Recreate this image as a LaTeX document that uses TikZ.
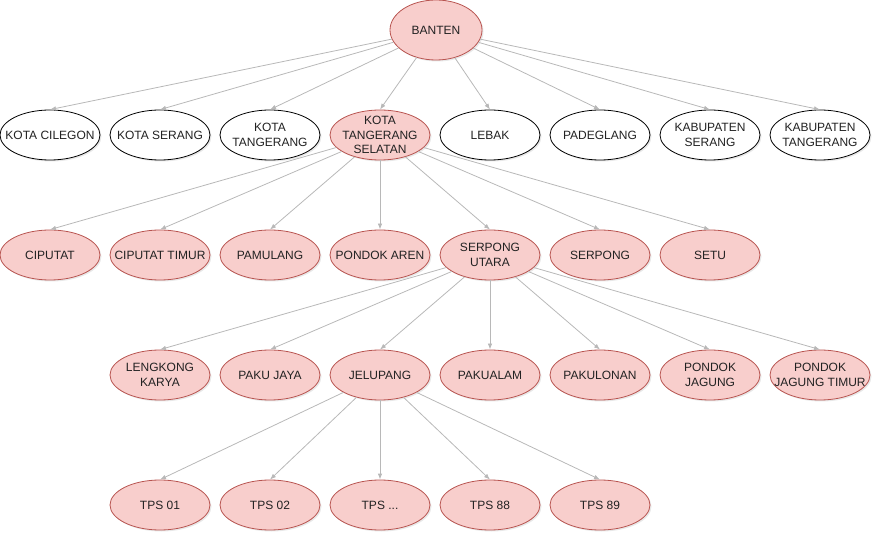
\documentclass[tikz,border=0pt]{standalone}
\usepackage{fontspec}
\setmainfont{Liberation Sans}
\usepackage{tikz}
\usetikzlibrary{shapes.geometric}
\usetikzlibrary{arrows.meta}
\usetikzlibrary{shadows}

\definecolor{pinkfill}{HTML}{F8CECC}
\definecolor{pinkline}{HTML}{B85450}
\definecolor{edgegray}{HTML}{B8B8B8}
\definecolor{txtgray}{HTML}{222222}

\tikzset{
    lbl/.style={align=center, inner sep=0pt, text=txtgray,
        font=\fontsize{12}{14.4}\selectfont},
    ell/.style={ellipse, draw=black, fill=white, line width=0.8pt,
        minimum width=100pt, minimum height=50pt, inner sep=0pt,
        drop shadow={opacity=0.18, shadow xshift=1.5pt, shadow yshift=-1.5pt},
        label={[lbl]center:#1}},
    pinkell/.style={ell=#1, draw=pinkline, fill=pinkfill},
    edge/.style={draw=edgegray, line width=0.8pt,
        -{Latex[length=6pt,width=4.5pt]}}
}

\begin{document}
\begin{tikzpicture}[x=1pt, y=-1pt]
        \useasboundingbox (0, 0) rectangle (873, 534);
        % province
        \node [pinkell=BANTEN, minimum width=92pt, minimum height=60pt] (banten) at (436, 30) {};
        % kota / kabupaten
        \node [ell={KOTA CILEGON}] (cilegon) at (50, 135) {};
        \node [ell={KOTA SERANG}] (serang) at (160, 135) {};
        \node [ell={KOTA\\TANGERANG}] (tangerang) at (270, 135) {};
        \node [pinkell={KOTA\\TANGERANG\\SELATAN}] (tangsel) at (380, 135) {};
        \node [ell=LEBAK] (lebak) at (490, 135) {};
        \node [ell=PADEGLANG] (pandeglang) at (600, 135) {};
        \node [ell={KABUPATEN\\SERANG}] (kabserang) at (710, 135) {};
        \node [ell={KABUPATEN\\TANGERANG}] (kabtangerang) at (820, 135) {};
        % kecamatan
        \node [pinkell=CIPUTAT] (ciputat) at (50, 255) {};
        \node [pinkell={CIPUTAT TIMUR}] (ciputattimur) at (160, 255) {};
        \node [pinkell=PAMULANG] (pamulang) at (270, 255) {};
        \node [pinkell={PONDOK AREN}] (pondokaren) at (380, 255) {};
        \node [pinkell={SERPONG\\UTARA}] (serput) at (490, 255) {};
        \node [pinkell=SERPONG] (serpong) at (600, 255) {};
        \node [pinkell=SETU] (setu) at (710, 255) {};
        % kelurahan
        \node [pinkell={LENGKONG\\KARYA}] (lengkong) at (160, 375) {};
        \node [pinkell={PAKU JAYA}] (pakujaya) at (270, 375) {};
        \node [pinkell=JELUPANG] (jelupang) at (380, 375) {};
        \node [pinkell=PAKUALAM] (pakualam) at (490, 375) {};
        \node [pinkell=PAKULONAN] (pakulonan) at (600, 375) {};
        \node [pinkell={PONDOK\\JAGUNG}] (pjagung) at (710, 375) {};
        \node [pinkell={PONDOK\\JAGUNG TIMUR}] (pjtimur) at (820, 375) {};
        % tps
        \node [pinkell={TPS 01}] (tps01) at (160, 505) {};
        \node [pinkell={TPS 02}] (tps02) at (270, 505) {};
        \node [pinkell={TPS ...}] (tpsdots) at (380, 505) {};
        \node [pinkell={TPS 88}] (tps88) at (490, 505) {};
        \node [pinkell={TPS 89}] (tps89) at (600, 505) {};
        % connectors
        \foreach \c in {cilegon, serang, tangerang, tangsel, lebak, pandeglang, kabserang, kabtangerang}
            \draw [edge] (banten) -- (\c.north);
        \foreach \c in {ciputat, ciputattimur, pamulang, pondokaren, serput, serpong, setu}
            \draw [edge] (tangsel) -- (\c.north);
        \foreach \c in {lengkong, pakujaya, jelupang, pakualam, pakulonan, pjagung, pjtimur}
            \draw [edge] (serput) -- (\c.north);
        \foreach \c in {tps01, tps02, tpsdots, tps88, tps89}
            \draw [edge] (jelupang) -- (\c.north);
    \end{tikzpicture}
\end{document}
